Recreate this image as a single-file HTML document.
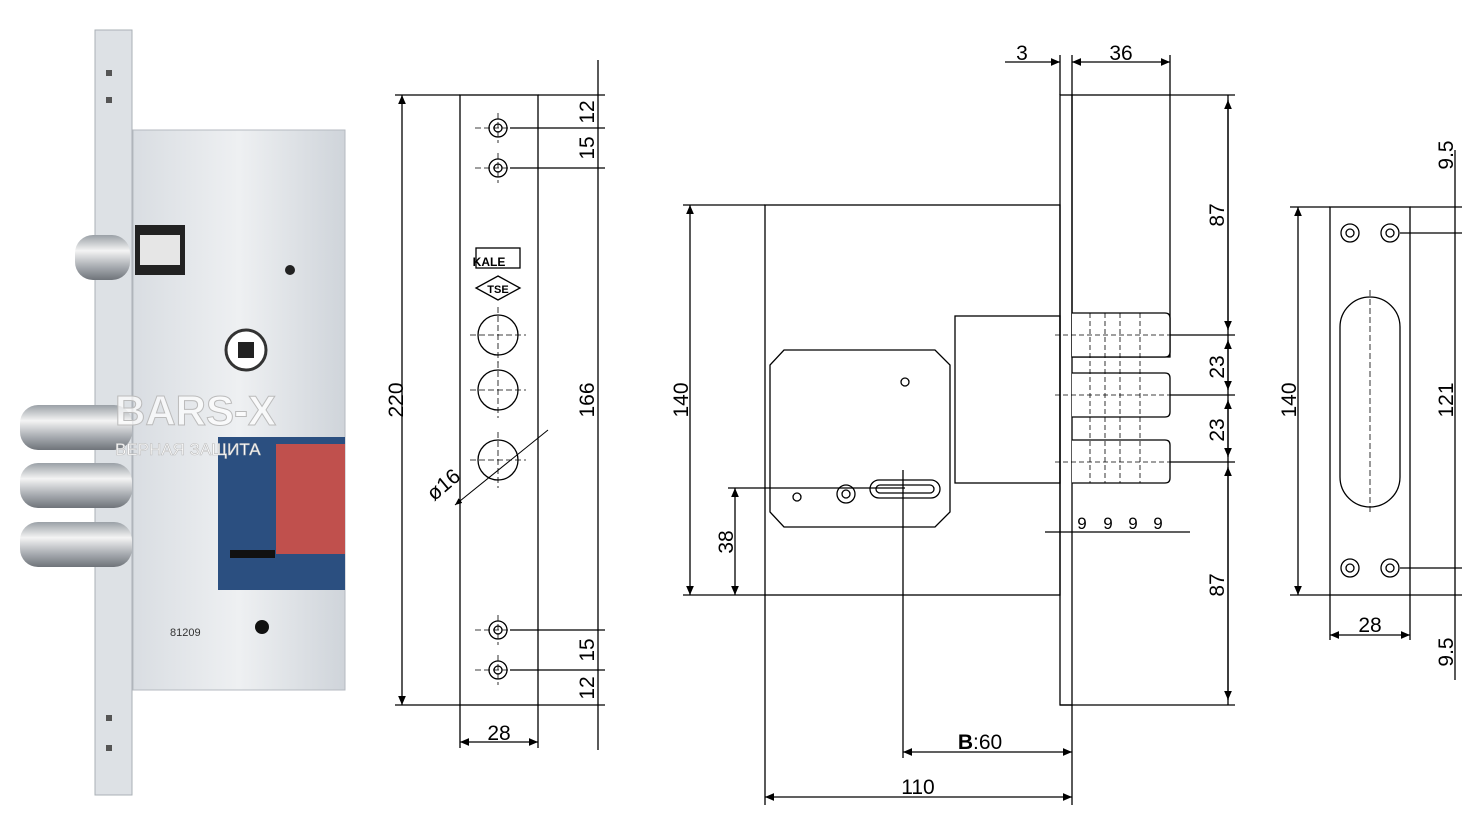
<!DOCTYPE html>
<html><head><meta charset="utf-8"><style>
html,body{margin:0;padding:0;background:#fff;}
svg{display:block;font-family:"Liberation Sans",sans-serif;}
</style></head><body>
<svg width="1484" height="820" viewBox="0 0 1484 820" xmlns="http://www.w3.org/2000/svg">
<defs>
<linearGradient id="met" x1="0" x2="1"><stop offset="0" stop-color="#d9dde2"/><stop offset="0.5" stop-color="#eef0f2"/><stop offset="1" stop-color="#cfd4da"/></linearGradient>
<linearGradient id="bolt" x1="0" y1="0" x2="0" y2="1"><stop offset="0" stop-color="#9aa0a6"/><stop offset="0.35" stop-color="#f4f4f4"/><stop offset="0.7" stop-color="#a9adb2"/><stop offset="1" stop-color="#6f747a"/></linearGradient>
<marker id="a" markerWidth="8" markerHeight="8" refX="7" refY="3" orient="auto-start-reverse"><path d="M0,0 L7,3 L0,6 Z" fill="#000"/></marker>
</defs>
<!-- photo -->
<rect x="133" y="130" width="212" height="560" fill="url(#met)" stroke="#b5bac0"/>
<rect x="95" y="30" width="37" height="765" fill="#dde1e5" stroke="#aab0b6"/>
<rect x="75" y="235" width="55" height="45" rx="18" fill="url(#bolt)"/>
<rect x="20" y="405" width="112" height="45" rx="18" fill="url(#bolt)"/>
<rect x="20" y="463" width="112" height="45" rx="18" fill="url(#bolt)"/>
<rect x="20" y="522" width="112" height="45" rx="18" fill="url(#bolt)"/>
<rect x="135" y="225" width="50" height="50" fill="#222"/>
<rect x="140" y="235" width="40" height="30" fill="#e6e6e6"/>
<circle cx="246" cy="350" r="20" fill="#fff" stroke="#333" stroke-width="3"/>
<rect x="238" y="342" width="16" height="16" fill="#222"/>
<rect x="218" y="437" width="127" height="153" fill="#2b4f80"/>
<rect x="276" y="444" width="69" height="110" fill="#c0504d"/>
<rect x="230" y="550" width="45" height="8" fill="#111"/>
<circle cx="262" cy="627" r="7" fill="#111"/>
<circle cx="290" cy="270" r="5" fill="#222"/>
<text x="170" y="636" font-size="11" fill="#333">81209</text>
<text x="115" y="425" font-size="42" font-weight="bold" fill="#fff" fill-opacity="0.7" stroke="#bbb" stroke-width="1">BARS-X</text>
<text x="115" y="455" font-size="17" fill="#fff" stroke="#bbb" stroke-width="0.6">ВЕРНАЯ ЗАЩИТА</text>
<g fill="#555"><rect x="106" y="70" width="6" height="6"/><rect x="106" y="97" width="6" height="6"/><rect x="106" y="715" width="6" height="6"/><rect x="106" y="745" width="6" height="6"/></g>

<g stroke="#000" stroke-width="1.3" fill="none">
<!-- faceplate front -->
<rect x="460" y="95" width="78" height="610"/>
<g><circle cx="498" cy="128" r="9"/><circle cx="498" cy="128" r="4"/><circle cx="498" cy="168" r="9"/><circle cx="498" cy="168" r="4"/>
<circle cx="498" cy="630" r="9"/><circle cx="498" cy="630" r="4"/><circle cx="498" cy="670" r="9"/><circle cx="498" cy="670" r="4"/>
<circle cx="498" cy="335" r="20"/><circle cx="498" cy="390" r="20"/><circle cx="498" cy="460" r="20"/></g>
<g stroke-width="0.8" stroke-dasharray="6 3">
<line x1="475" y1="128" x2="521" y2="128"/><line x1="498" y1="113" x2="498" y2="143"/>
<line x1="475" y1="168" x2="521" y2="168"/><line x1="498" y1="153" x2="498" y2="183"/>
<line x1="475" y1="630" x2="521" y2="630"/><line x1="498" y1="615" x2="498" y2="645"/>
<line x1="475" y1="670" x2="521" y2="670"/><line x1="498" y1="655" x2="498" y2="685"/>
<line x1="470" y1="335" x2="526" y2="335"/><line x1="498" y1="307" x2="498" y2="363"/>
<line x1="470" y1="390" x2="526" y2="390"/><line x1="498" y1="362" x2="498" y2="418"/>
<line x1="470" y1="460" x2="526" y2="460"/><line x1="498" y1="432" x2="498" y2="488"/></g>
<rect x="476" y="248" width="44" height="20"/>
<path d="M498,276 L520,288 L498,300 L476,288 Z"/>
<line x1="455" y1="505" x2="548" y2="430" stroke-width="1" marker-start="url(#a)"/>
<!-- dims front -->
<line x1="402" y1="95" x2="402" y2="705" marker-start="url(#a)" marker-end="url(#a)"/>
<line x1="395" y1="95" x2="460" y2="95"/><line x1="395" y1="705" x2="460" y2="705"/>
<line x1="598" y1="60" x2="598" y2="750"/>
<line x1="538" y1="95" x2="605" y2="95"/><line x1="510" y1="128" x2="605" y2="128"/><line x1="510" y1="168" x2="605" y2="168"/>
<line x1="510" y1="630" x2="605" y2="630"/><line x1="510" y1="670" x2="605" y2="670"/><line x1="538" y1="705" x2="605" y2="705"/>
<line x1="460" y1="705" x2="460" y2="748"/><line x1="538" y1="705" x2="538" y2="748"/>
<line x1="460" y1="742" x2="538" y2="742" marker-start="url(#a)" marker-end="url(#a)"/>

<!-- side view -->
<rect x="1060" y="95" width="12" height="610"/>
<rect x="765" y="205" width="295" height="390"/>
<rect x="1072" y="95" width="98" height="262"/>
<rect x="955" y="316" width="105" height="167"/>
<path d="M1072,313 H1165 Q1170,313 1170,318 V352 Q1170,357 1165,357 H1072" fill="#fff"/>
<path d="M1072,373 H1165 Q1170,373 1170,378 V412 Q1170,417 1165,417 H1072" fill="#fff"/>
<path d="M1072,440 H1165 Q1170,440 1170,445 V478 Q1170,483 1165,483 H1072" fill="#fff"/>
<g stroke-width="0.8" stroke-dasharray="5 3">
<line x1="1090" y1="313" x2="1090" y2="483"/><line x1="1105" y1="313" x2="1105" y2="483"/><line x1="1120" y1="313" x2="1120" y2="483"/><line x1="1140" y1="313" x2="1140" y2="483"/>
<line x1="1055" y1="335" x2="1175" y2="335"/><line x1="1055" y1="395" x2="1175" y2="395"/><line x1="1055" y1="462" x2="1175" y2="462"/></g>
<path d="M784,350 H935 L950,365 V512 L935,527 H784 L770,512 V365 Z" fill="#fff"/>
<circle cx="905" cy="382" r="4"/><circle cx="797" cy="497" r="4"/>
<circle cx="846" cy="494" r="9"/><circle cx="846" cy="494" r="4"/>
<rect x="870" y="480" width="70" height="18" rx="9"/><rect x="876" y="485" width="58" height="8" rx="4"/>
<!-- side dims -->
<line x1="690" y1="205" x2="690" y2="595" marker-start="url(#a)" marker-end="url(#a)"/>
<line x1="683" y1="205" x2="765" y2="205"/><line x1="683" y1="595" x2="765" y2="595"/>
<line x1="735" y1="488" x2="735" y2="595" marker-start="url(#a)" marker-end="url(#a)"/>
<line x1="728" y1="488" x2="905" y2="488"/>
<line x1="903" y1="470" x2="903" y2="758"/><line x1="1072" y1="705" x2="1072" y2="805"/>
<line x1="765" y1="595" x2="765" y2="805"/>
<line x1="903" y1="752" x2="1072" y2="752" marker-start="url(#a)" marker-end="url(#a)"/>
<line x1="765" y1="797" x2="1072" y2="797" marker-start="url(#a)" marker-end="url(#a)"/>
<line x1="1060" y1="55" x2="1060" y2="95"/><line x1="1072" y1="55" x2="1072" y2="95"/><line x1="1170" y1="55" x2="1170" y2="95"/>
<line x1="1005" y1="62" x2="1060" y2="62" marker-end="url(#a)"/>
<line x1="1072" y1="62" x2="1170" y2="62" marker-start="url(#a)" marker-end="url(#a)"/>
<line x1="1228" y1="95" x2="1228" y2="705"/>
<line x1="1170" y1="95" x2="1235" y2="95"/><line x1="1060" y1="705" x2="1235" y2="705"/>
<line x1="1170" y1="335" x2="1235" y2="335"/><line x1="1170" y1="395" x2="1235" y2="395"/><line x1="1170" y1="462" x2="1235" y2="462"/>
<g marker-start="url(#a)" marker-end="url(#a)"><line x1="1228" y1="100" x2="1228" y2="330"/><line x1="1228" y1="340" x2="1228" y2="390"/><line x1="1228" y1="400" x2="1228" y2="457"/><line x1="1228" y1="467" x2="1228" y2="700"/></g>
<line x1="1045" y1="532" x2="1190" y2="532"/>

<!-- right view -->
<rect x="1330" y="207" width="80" height="388"/>
<g><circle cx="1350" cy="233" r="9"/><circle cx="1350" cy="233" r="4"/><circle cx="1390" cy="233" r="9"/><circle cx="1390" cy="233" r="4"/>
<circle cx="1350" cy="568" r="9"/><circle cx="1350" cy="568" r="4"/><circle cx="1390" cy="568" r="9"/><circle cx="1390" cy="568" r="4"/></g>
<rect x="1340" y="297" width="60" height="210" rx="30"/>
<line x1="1370" y1="290" x2="1370" y2="515" stroke-width="0.8" stroke-dasharray="6 3"/>
<line x1="1298" y1="207" x2="1298" y2="595" marker-start="url(#a)" marker-end="url(#a)"/>
<line x1="1290" y1="207" x2="1330" y2="207"/><line x1="1290" y1="595" x2="1330" y2="595"/>
<line x1="1455" y1="150" x2="1455" y2="680"/>
<line x1="1410" y1="207" x2="1462" y2="207"/><line x1="1400" y1="233" x2="1462" y2="233"/>
<line x1="1400" y1="568" x2="1462" y2="568"/><line x1="1410" y1="595" x2="1462" y2="595"/>
<line x1="1330" y1="595" x2="1330" y2="640"/><line x1="1410" y1="595" x2="1410" y2="640"/>
<line x1="1330" y1="635" x2="1410" y2="635" marker-start="url(#a)" marker-end="url(#a)"/>
</g>
<g font-size="21" fill="#000">
<text x="489" y="266" font-size="12" font-weight="bold" text-anchor="middle" x="498">KALE</text>
<text x="498" y="293" font-size="11" font-weight="bold" text-anchor="middle">TSE</text>
<text transform="translate(403,400) rotate(-90)" text-anchor="middle">220</text>
<text transform="translate(594,112) rotate(-90)" text-anchor="middle">12</text>
<text transform="translate(594,148) rotate(-90)" text-anchor="middle">15</text>
<text transform="translate(594,400) rotate(-90)" text-anchor="middle">166</text>
<text transform="translate(594,650) rotate(-90)" text-anchor="middle">15</text>
<text transform="translate(594,688) rotate(-90)" text-anchor="middle">12</text>
<text x="499" y="740" text-anchor="middle">28</text>
<text transform="translate(448,490) rotate(-40)" text-anchor="middle">ø16</text>
<text transform="translate(688,400) rotate(-90)" text-anchor="middle">140</text>
<text transform="translate(733,542) rotate(-90)" text-anchor="middle">38</text>
<text x="980" y="749" text-anchor="middle"><tspan font-weight="bold">B</tspan>:60</text>
<text x="918" y="794" text-anchor="middle">110</text>
<text x="1022" y="60" text-anchor="middle">3</text>
<text x="1121" y="60" text-anchor="middle">36</text>
<text transform="translate(1224,215) rotate(-90)" text-anchor="middle">87</text>
<text transform="translate(1224,367) rotate(-90)" text-anchor="middle">23</text>
<text transform="translate(1224,430) rotate(-90)" text-anchor="middle">23</text>
<text transform="translate(1224,585) rotate(-90)" text-anchor="middle">87</text>
<g font-size="17"><text x="1082" y="529" text-anchor="middle">9</text><text x="1108" y="529" text-anchor="middle">9</text><text x="1133" y="529" text-anchor="middle">9</text><text x="1158" y="529" text-anchor="middle">9</text></g>
<text transform="translate(1296,400) rotate(-90)" text-anchor="middle">140</text>
<text transform="translate(1453,400) rotate(-90)" text-anchor="middle">121</text>
<text transform="translate(1453,155) rotate(-90)" text-anchor="middle">9.5</text>
<text transform="translate(1453,652) rotate(-90)" text-anchor="middle">9.5</text>
<text x="1370" y="632" text-anchor="middle">28</text>
</g>
</svg>
</body></html>
